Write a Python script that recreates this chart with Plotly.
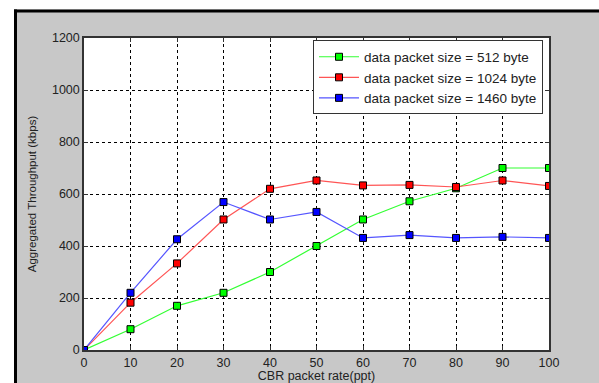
import plotly.graph_objects as go

rate = [0, 10, 20, 30, 40, 50, 60, 70, 80, 90, 100]
size_512 = [0, 80, 170, 220, 300, 400, 502, 572, 622, 700, 700]
size_1024 = [0, 182, 333, 502, 620, 652, 633, 635, 627, 652, 631]
size_1460 = [0, 220, 426, 569, 502, 531, 431, 442, 431, 435, 431]
names = ["data packet size = 512 byte", "data packet size = 1024 byte", "data packet size = 1460 byte"]
line_colors = ["#33ff33", "#ff5555", "#5555ff"]
marker_colors = ["#00ff00", "#ff0000", "#0000ff"]

W, H = 599, 383
L, R, T, B = 84, 549, 37.5, 350

fig = go.Figure()
for ys, nm, lc, mc in zip([size_512, size_1024, size_1460], names, line_colors, marker_colors):
    fig.add_trace(go.Scatter(
        x=rate, y=ys, name=nm, mode="lines+markers",
        line=dict(color=lc, width=1.2),
        marker=dict(symbol="square", size=7, color=mc, line=dict(color="#000000", width=1)),
    ))

axis_common = dict(
    showline=True, linecolor="#333333", linewidth=1.5, mirror="ticks",
    ticks="inside", ticklen=4, tickcolor="#333333",
    showgrid=True, gridcolor="#000000", gridwidth=1, griddash="3px,3px",
    zeroline=False, automargin=False,
    tickfont=dict(family="Liberation Sans, Arial", size=12.5, color="#222222"),
)

fig.update_layout(
    width=W, height=H,
    margin=dict(l=L, r=W - R, t=T, b=H - B, pad=0, autoexpand=False),
    paper_bgcolor="#c8c8c8",
    plot_bgcolor="#ffffff",
    xaxis=dict(range=[0, 100], tickvals=rate, **axis_common,
               title=dict(text="CBR packet rate(ppt)", standoff=1,
                          font=dict(family="Liberation Sans, Arial", size=12.5, color="#222222"))),
    yaxis=dict(range=[0, 1200], tickvals=[0, 200, 400, 600, 800, 1000, 1200], **axis_common,
               title=dict(text="Aggregated Throughput (kbps)", standoff=13,
                          font=dict(family="Liberation Sans, Arial", size=11.5, color="#222222"))),
    legend=dict(
        x=(543 - L) / (R - L), y=(B - 40) / (B - T), xanchor="right", yanchor="top",
        bgcolor="#ffffff", bordercolor="#333333", borderwidth=1,
        font=dict(family="Liberation Sans, Arial", size=13.5, color="#222222"),
        tracegroupgap=0, itemwidth=40,
    ),
    showlegend=True,
)

def px2x(px):
    return (px - L) / (R - L)

def py2y(py):
    return (B - py) / (B - T)

shapes = [
    dict(type="rect", xref="paper", yref="paper", x0=px2x(-5), x1=px2x(W + 5), y0=py2y(9), y1=py2y(-5),
         fillcolor="#ffffff", line=dict(width=0), layer="above"),
    dict(type="rect", xref="paper", yref="paper", x0=px2x(-5), x1=px2x(14), y0=py2y(H + 5), y1=py2y(-5),
         fillcolor="#ffffff", line=dict(width=0), layer="above"),
    dict(type="rect", xref="paper", yref="paper", x0=px2x(14), x1=px2x(W + 5), y0=py2y(12), y1=py2y(9),
         fillcolor="#000000", line=dict(width=0), layer="above"),
    dict(type="rect", xref="paper", yref="paper", x0=px2x(14), x1=px2x(17), y0=py2y(H + 5), y1=py2y(9),
         fillcolor="#000000", line=dict(width=0), layer="above"),
]
fig.update_layout(shapes=shapes)

fig.write_html("out.html", config={"displayModeBar": False},
               post_script="document.body.style.margin='0';document.body.style.overflow='hidden';")
